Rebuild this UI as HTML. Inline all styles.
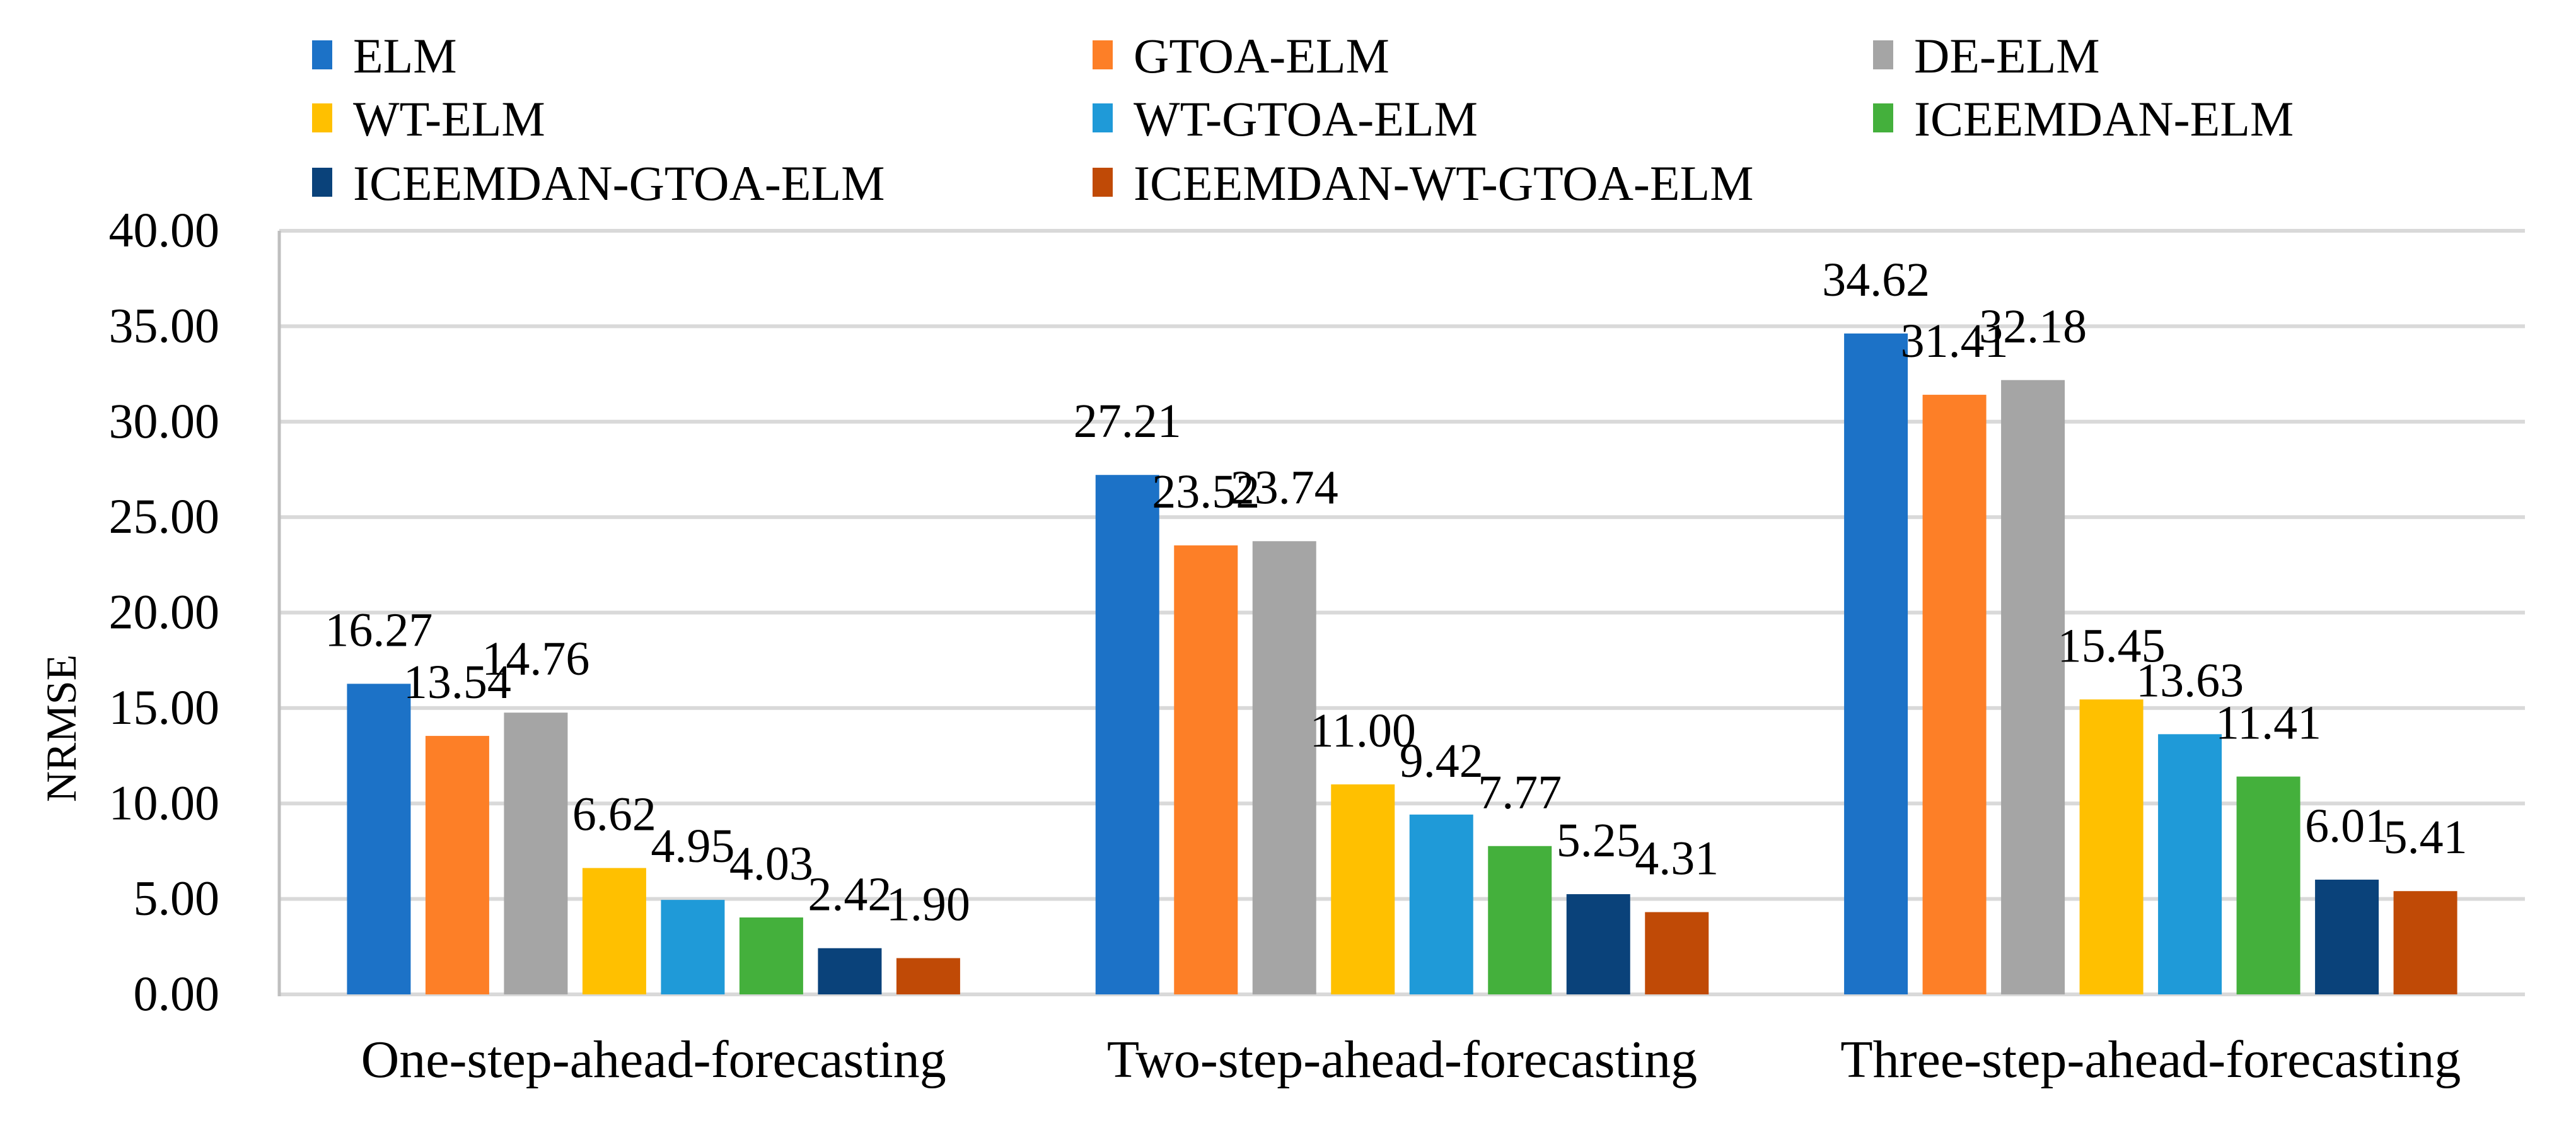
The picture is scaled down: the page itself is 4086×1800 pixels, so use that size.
<!DOCTYPE html>
<html><head><meta charset="utf-8"><style>
html,body{margin:0;padding:0;background:#fff;}
svg text{font-family:"Liberation Serif",serif;fill:#000;}
</style></head><body>
<svg id="chart" width="4086" height="1795" viewBox="0 0 4086 1795" xmlns="http://www.w3.org/2000/svg">
<g id="legend"></g>
<g id="grid"></g>
<g id="yticks"></g>
<g id="bars"></g>
<g id="labels"></g>
<g id="xcats"></g>
<text x="0" y="0" font-size="68" text-anchor="middle" transform="translate(120,1155) rotate(-90)">NRMSE</text>
</svg>
<script>
const categories = ["One-step-ahead-forecasting","Two-step-ahead-forecasting","Three-step-ahead-forecasting"];
const seriesNames = ["ELM","GTOA-ELM","DE-ELM","WT-ELM","WT-GTOA-ELM","ICEEMDAN-ELM","ICEEMDAN-GTOA-ELM","ICEEMDAN-WT-GTOA-ELM"];
const seriesColors = ["#1c72c7","#fd7f27","#a5a5a5","#ffc000","#1f9ad8","#44b03c","#0a427a","#c04a06"];
const elm = [16.27,27.21,34.62];
const gtoaElm = [13.54,23.52,31.41];
const deElm = [14.76,23.74,32.18];
const wtElm = [6.62,11.00,15.45];
const wtGtoaElm = [4.95,9.42,13.63];
const iceElm = [4.03,7.77,11.41];
const iceGtoaElm = [2.42,5.25,6.01];
const iceWtGtoaElm = [1.90,4.31,5.41];
const seriesValues = [elm,gtoaElm,deElm,wtElm,wtGtoaElm,iceElm,iceGtoaElm,iceWtGtoaElm];
const yTicks = [0,5,10,15,20,25,30,35,40];

const NS="http://www.w3.org/2000/svg";
const X0=443,X1=4005,Y0=1577,Y1=366,YMAX=40;
const y=v=>Y0-(v/YMAX)*(Y0-Y1);
const catW=(X1-X0)/categories.length;
const step=124.5,barW=101;
const xBar=(c,s)=>X0+catW*c+catW/2-step*seriesNames.length/2+step*s+(step-barW)/2;
function mk(tag,attrs,parent){const e=document.createElementNS(NS,tag);for(const k in attrs)e.setAttribute(k,attrs[k]);document.getElementById(parent).appendChild(e);return e;}

yTicks.forEach(t=>{
  const l=mk("line",{x1:X0,x2:X1,y1:y(t),y2:y(t),stroke:"#d9d9d9","stroke-width":6},"grid");
  
  
  const tx=mk("text",{x:348,y:y(t)+25,"font-size":78,"text-anchor":"end"},"yticks");
  tx.textContent=t.toFixed(2);
  
  
});
const ax=mk("line",{x1:X0,x2:X0,y1:Y1,y2:Y0+3,stroke:"#bfbfbf","stroke-width":5},"grid");



seriesValues.forEach((vals,s)=>{
  vals.forEach((v,c)=>{
    const bx=xBar(c,s);
    const r=mk("rect",{x:bx,y:y(v),width:barW,height:Y0-y(v),fill:seriesColors[s]},"bars");
    
    
    const t=mk("text",{x:bx+barW/2,y:y(v)-60,"font-size":76,"text-anchor":"middle"},"labels");
    t.textContent=v.toFixed(2);
    
    
  });
});

categories.forEach((c,i)=>{
  const t=mk("text",{x:X0+catW*i+catW/2,y:1708,"font-size":84,"text-anchor":"middle"},"xcats");
  t.textContent=c;
  
  
});

const legX=[495,1733,2971],legY=[88,188,290];
seriesNames.forEach((n,i)=>{
  const col=i%3,row=Math.floor(i/3);
  const r=mk("rect",{x:legX[col],y:legY[row]-24,width:32,height:46,fill:seriesColors[i]},"legend");
  
  
  const t=mk("text",{x:legX[col]+65,y:legY[row]+27,"font-size":78},"legend");
  t.textContent=n;
  
  
});
</script>
</body></html>
